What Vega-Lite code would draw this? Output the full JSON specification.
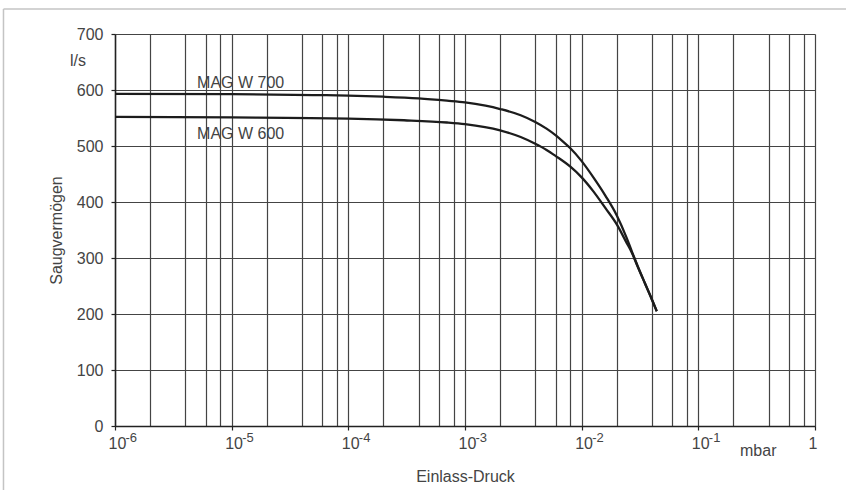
{
  "$schema": "https://vega.github.io/schema/vega-lite/v6.json",
  "width": 700,
  "height": 392,
  "autosize": {"type": "none"},
  "padding": {"left": 115, "top": 34, "right": 31, "bottom": 64},
  "background": "white",
  "config": {
    "view": {"stroke": null},
    "font": "Liberation Sans",
    "axis": {"labelFont": "Liberation Sans", "titleFont": "Liberation Sans"}
  },
  "datasets": {
    "curves": [
      {"series": "MAG W 700", "p": 1e-6, "s": 593},
      {"series": "MAG W 700", "p": 1e-5, "s": 592.5},
      {"series": "MAG W 700", "p": 5e-5, "s": 591},
      {"series": "MAG W 700", "p": 1e-4, "s": 590},
      {"series": "MAG W 700", "p": 2e-4, "s": 588},
      {"series": "MAG W 700", "p": 4e-4, "s": 585},
      {"series": "MAG W 700", "p": 7e-4, "s": 581},
      {"series": "MAG W 700", "p": 1e-3, "s": 578},
      {"series": "MAG W 700", "p": 1.5e-3, "s": 572},
      {"series": "MAG W 700", "p": 2e-3, "s": 566},
      {"series": "MAG W 700", "p": 3e-3, "s": 555},
      {"series": "MAG W 700", "p": 4e-3, "s": 543},
      {"series": "MAG W 700", "p": 5e-3, "s": 531},
      {"series": "MAG W 700", "p": 6e-3, "s": 519},
      {"series": "MAG W 700", "p": 7e-3, "s": 507},
      {"series": "MAG W 700", "p": 8e-3, "s": 496},
      {"series": "MAG W 700", "p": 1e-2, "s": 473},
      {"series": "MAG W 700", "p": 1.26e-2, "s": 444},
      {"series": "MAG W 700", "p": 1.6e-2, "s": 411},
      {"series": "MAG W 700", "p": 2e-2, "s": 376},
      {"series": "MAG W 700", "p": 2.43e-2, "s": 336},
      {"series": "MAG W 700", "p": 2.7e-2, "s": 311},
      {"series": "MAG W 700", "p": 3e-2, "s": 287},
      {"series": "MAG W 700", "p": 3.5e-2, "s": 254},
      {"series": "MAG W 700", "p": 4e-2, "s": 226},
      {"series": "MAG W 700", "p": 4.4e-2, "s": 205},
      {"series": "MAG W 600", "p": 1e-6, "s": 552},
      {"series": "MAG W 600", "p": 1e-5, "s": 551},
      {"series": "MAG W 600", "p": 1e-4, "s": 549},
      {"series": "MAG W 600", "p": 3e-4, "s": 546},
      {"series": "MAG W 600", "p": 7e-4, "s": 542},
      {"series": "MAG W 600", "p": 1e-3, "s": 539},
      {"series": "MAG W 600", "p": 2e-3, "s": 528},
      {"series": "MAG W 600", "p": 3e-3, "s": 516},
      {"series": "MAG W 600", "p": 4e-3, "s": 504},
      {"series": "MAG W 600", "p": 5e-3, "s": 493},
      {"series": "MAG W 600", "p": 6e-3, "s": 482},
      {"series": "MAG W 600", "p": 8e-3, "s": 463},
      {"series": "MAG W 600", "p": 1e-2, "s": 444},
      {"series": "MAG W 600", "p": 1.26e-2, "s": 419},
      {"series": "MAG W 600", "p": 1.6e-2, "s": 389},
      {"series": "MAG W 600", "p": 2e-2, "s": 360},
      {"series": "MAG W 600", "p": 2.43e-2, "s": 327},
      {"series": "MAG W 600", "p": 2.7e-2, "s": 309},
      {"series": "MAG W 600", "p": 3e-2, "s": 286},
      {"series": "MAG W 600", "p": 3.5e-2, "s": 254},
      {"series": "MAG W 600", "p": 4e-2, "s": 226},
      {"series": "MAG W 600", "p": 4.4e-2, "s": 205}
    ],
    "labels": [
      {"text": "MAG  W 700", "p": 5.05e-6, "s": 604},
      {"text": "MAG  W 600", "p": 5.05e-6, "s": 512}
    ]
  },
  "resolve": {"axis": {"x": "independent"}},
  "layer": [
    {
      "data": {"name": "curves"},
      "mark": {"type": "line", "color": "#1c1c1c", "strokeWidth": 2.3, "interpolate": "monotone"},
      "encoding": {
        "x": {
          "field": "p", "type": "quantitative",
          "scale": {"type": "log", "domain": [1e-6, 1], "nice": false},
          "axis": {
            "orient": "bottom",
            "title": "Einlass-Druck",
            "titleFontSize": 16, "titleFontWeight": "normal", "titleColor": "#444",
            "titleBaseline": "alphabetic", "titleY": 55,
            "values": [1e-6, 2e-6, 4e-6, 6e-6, 8e-6, 1e-5, 2e-5, 4e-5, 6e-5, 8e-5, 1e-4, 2e-4, 4e-4, 6e-4, 8e-4, 1e-3, 2e-3, 4e-3, 6e-3, 8e-3, 1e-2, 2e-2, 4e-2, 6e-2, 8e-2, 1e-1, 2e-1, 4e-1, 6e-1, 8e-1, 1],
            "grid": true, "gridColor": "#444", "gridWidth": 1.2,
            "domainColor": "#222", "domainWidth": 1.5,
            "tickColor": "#222", "tickSize": 4, "tickWidth": 1.2,
            "tickOpacity": {"condition": {"test": "abs(log(datum.value)/LN10 - round(log(datum.value)/LN10)) < 0.001", "value": 1}, "value": 0},
            "labelExpr": "datum.value > 0.999 ? '1' : (abs(log(datum.value)/LN10 - round(log(datum.value)/LN10)) < 0.001 ? '10' : '')",
            "labelFontSize": 16, "labelColor": "#444",
            "labelBaseline": "alphabetic", "labelPadding": 18,
            "labelAlign": "left",
            "labelOffset": -7,
            "labelOverlap": false, "labelBound": false, "labelFlush": false
          }
        },
        "y": {
          "field": "s", "type": "quantitative",
          "scale": {"domain": [0, 700], "nice": false},
          "axis": {
            "title": "Saugvermögen",
            "titleFontSize": 16, "titleFontWeight": "normal", "titleColor": "#444",
            "titleAngle": -90, "titleBaseline": "alphabetic", "titleAlign": "center",
            "titleX": -54, "titleY": 196,
            "values": [0, 100, 200, 300, 400, 500, 600, 700],
            "grid": true, "gridColor": "#444", "gridWidth": 1.2,
            "domainColor": "#222", "domainWidth": 1.5,
            "tickColor": "#222", "tickSize": 4, "tickWidth": 1.2,
            "labelFontSize": 16, "labelColor": "#444", "labelPadding": 8,
            "labelBaseline": "middle"
          }
        },
        "detail": {"field": "series", "type": "nominal"}
      }
    },
    {
      "data": {"name": "labels"},
      "mark": {"type": "text", "align": "left", "baseline": "alphabetic", "fontSize": 16, "color": "#444"},
      "encoding": {
        "x": {
          "field": "p", "type": "quantitative",
          "axis": {
            "orient": "bottom", "title": null,
            "values": [1e-6, 1e-5, 1e-4, 1e-3, 1e-2, 1e-1],
            "labelExpr": "'-' + format(-round(log(datum.value)/LN10), 'd')",
            "grid": false, "domain": false, "ticks": false, "tickSize": 0,
            "labelFontSize": 13, "labelColor": "#444",
            "labelAlign": "left", "labelOffset": 10, "labelPadding": 15,
            "labelBaseline": "alphabetic",
            "labelOverlap": false, "labelBound": false, "labelFlush": false
          }
        },
        "y": {"field": "s", "type": "quantitative"},
        "text": {"field": "text"}
      }
    },
    {
      "data": {"values": [{}]},
      "mark": {"type": "text", "align": "right", "baseline": "alphabetic", "fontSize": 16, "color": "#444"},
      "encoding": {
        "x": {"datum": 5.64e-7, "type": "quantitative", "axis": null},
        "y": {"datum": 643, "type": "quantitative"},
        "text": {"value": "l/s"}
      }
    },
    {
      "data": {"values": [{}]},
      "mark": {"type": "text", "align": "left", "baseline": "alphabetic", "fontSize": 16, "color": "#444"},
      "encoding": {
        "x": {"datum": 0.2276, "type": "quantitative", "axis": null},
        "y": {"datum": -53.6, "type": "quantitative"},
        "text": {"value": "mbar"}
      }
    },
    {
      "data": {"values": [{}]},
      "mark": {"type": "rule", "color": "#c4c4c4", "strokeWidth": 1.5},
      "encoding": {
        "x": {"datum": 1.107e-7, "type": "quantitative", "axis": null},
        "x2": {"datum": 10},
        "y": {"datum": 744.6, "type": "quantitative"}
      }
    },
    {
      "data": {"values": [{}]},
      "mark": {"type": "rule", "color": "#c4c4c4", "strokeWidth": 1.5},
      "encoding": {
        "x": {"datum": 1.107e-7, "type": "quantitative", "axis": null},
        "y": {"datum": 744.6, "type": "quantitative"},
        "y2": {"datum": -130}
      }
    }
  ]
}
